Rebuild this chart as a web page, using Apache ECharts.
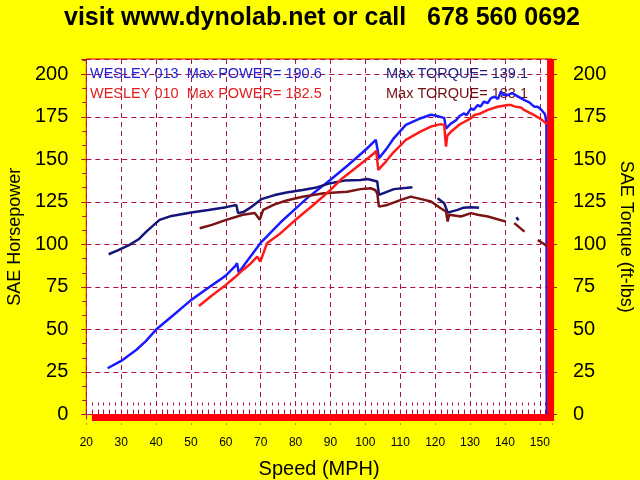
<!DOCTYPE html>
<html>
<head>
<meta charset="utf-8">
<script src="https://cdn.jsdelivr.net/npm/echarts@6/dist/echarts.min.js"></script>
<style>html,body{margin:0;padding:0;background:#ffff00;}#c{width:640px;height:480px;}</style>
</head>
<body>
<div id="c"></div>
<script>
// ---- data (speed MPH, value) ----
const hp013 = [[26.1,27.2],[30,31.5],[34.3,37.9],[37,43],[40.2,50.3],[45,58.5],[50.1,67.4],[55,74.5],[59.9,81.5],[62.8,87.5],[63.2,89],[63.7,83.4],[66,90],[69.9,100.7],[75.7,113],[80,121],[83.3,127.2],[90,138],[95,146.5],[100,155.5],[103,161.5],[103.5,162],[103.9,150.7],[106,156],[108,162],[111.6,170.3],[115.9,174.2],[118.8,176.2],[120,175.8],[122.6,174.4],[123.1,168.1],[124.5,171],[126,173],[127,175.5],[128.3,177],[129,176],[130.3,180],[131,179],[132.2,181.9],[133,181],[134,184],[135,183],[136,186],[137,186.8],[138,185.5],[138.9,190],[139.5,188],[140.8,187.8],[142,189],[143.7,187],[145.6,184.8],[147,183.5],[148.4,181],[149.4,180.9],[150.5,179],[151.5,176.5],[151.9,172],[152,0]];
const hp010 = [[52.3,63.8],[56,70],[60,76.2],[62.5,80.5],[64.9,85],[67,88.5],[69,92.8],[69.9,89.9],[71.8,100.7],[75.7,106.6],[80.5,115.4],[85,123],[90,132],[92.9,138],[96,143],[100,149.5],[102.5,153.6],[103.1,155],[103.7,143.8],[106,149],[108,154],[111.6,161.5],[115.9,166.4],[118.8,169.3],[121.6,170.7],[122.6,170.1],[123.1,157.5],[123.5,164],[124.5,166.2],[127,170.5],[130.3,174.2],[131.2,176],[133,177],[135.1,179.1],[137.9,180.9],[140.8,182],[141.8,181.9],[143,181],[144.6,180.5],[145.6,178.9],[147,177.5],[148.4,176],[150,174],[151.3,172.1],[152,170.7]];
const tq013 = [[26.4,94.2],[29,96.5],[32.4,99.7],[35,103],[37.2,107.5],[41,114.4],[44,116.5],[50.1,118.7],[55,120.2],[60.1,121.9],[63,123.2],[63.5,118.4],[65,119],[66.8,121.3],[70.2,126.6],[74,129],[77.4,130.5],[82,132],[86,133.5],[90,136],[94,137.5],[98.6,137.9],[100.6,138.5],[103.4,137],[103.9,129.1],[108.2,132.5],[113.5,133.6],[116,null],[120.7,127.2],[122.6,124.2],[123.6,118.7],[126.4,120.3],[128,121.5],[130.3,121.9],[132.6,121.5],[138,null],[143.3,116],[143.9,114.2]];
const tq010 = [[52.5,109.5],[56,111.5],[60.1,114.4],[64.9,117.4],[68.3,118.4],[69.2,116],[69.7,114.4],[70.7,120.3],[74,123.5],[77.4,125.8],[82,128],[88.1,130.1],[94.8,131],[98.6,132.5],[101.5,133],[102.8,132],[103.4,130.1],[103.9,122.2],[106.3,123.2],[110,126],[113,128.1],[116,126.6],[118.8,125.2],[121.6,121.3],[123.1,119.3],[123.6,113.4],[124,117.4],[127.4,116.4],[130.3,118.4],[132.2,117.4],[135.1,116.4],[140.3,113.4],[141.5,null],[142.7,112.5],[145.6,107.5],[147.5,null],[149.4,102.6],[151,100.5],[152.3,98.7]];
const endTrace = [[21.6,-1.8],[153.1,-1.8],[153.1,209]];
const titleText = 'visit www.dynolab.net or call   678 560 0692';
const legend013 = 'WESLEY 013  Max POWER= 190.6';
const legend010 = 'WESLEY 010  Max POWER= 182.5';
const torque013 = 'Max TORQUE= 139.1';
const torque010 = 'Max TORQUE= 133.1';

const FONT = 'Arial, "Liberation Sans", sans-serif';
const gridDash = {color:'#b0103c', type:[5,4], width:1};

const chart = echarts.init(document.getElementById('c'), null, {renderer:'canvas'});
chart.setOption({
  backgroundColor:'#ffff00',
  animation:false,
  grid:{left:86.3, right:88, top:59, bottom:65.5, containLabel:false, outerBoundsMode:'none', show:true, backgroundColor:'#ffffff', borderColor:'#dd0000', borderWidth:1, z:0},
  xAxis:[{
    type:'value', min:20, max:153.5, interval:10,
    name:'Speed (MPH)', nameLocation:'middle', nameGap:45,
    nameTextStyle:{fontSize:20, color:'#000', fontFamily:FONT},
    axisLine:{show:false},
    axisTick:{show:true, inside:true, length:12, lineStyle:gridDash},
    minorTick:{show:true, splitNumber:6, length:12, lineStyle:gridDash},
    axisLabel:{fontSize:12, color:'#000', fontFamily:FONT, margin:22,
      formatter:v=> (v%10===0 ? String(v) : '')},
    splitLine:{show:true, lineStyle:gridDash}
  },{
    type:'value', min:20, max:153.5, interval:10, position:'bottom', offset:8,
    axisLine:{show:false}, axisLabel:{show:false}, splitLine:{show:false},
    axisTick:{show:true, length:10, lineStyle:gridDash}
  }],
  yAxis:[{
    type:'value', min:0, max:209, interval:25, position:'left',
    name:'SAE Horsepower', nameLocation:'middle', nameGap:62, nameRotate:90,
    nameTextStyle:{fontSize:18, color:'#000', fontFamily:FONT},
    axisLine:{show:false},
    axisTick:{show:true, length:8, lineStyle:gridDash},
    minorTick:{show:true, splitNumber:3, length:4, lineStyle:{color:'#b0103c'}},
    axisLabel:{fontSize:20, color:'#000', fontFamily:FONT, margin:18,
      formatter:v=> (v%25===0 ? String(v) : '')},
    splitLine:{show:true, lineStyle:gridDash}
  },{
    type:'value', min:0, max:209, interval:25, position:'right',
    name:'SAE Torque (ft-lbs)', nameLocation:'middle', nameGap:64, nameRotate:-90,
    nameTextStyle:{fontSize:18, color:'#000', fontFamily:FONT},
    axisLine:{show:false},
    axisTick:{show:true, length:8, lineStyle:gridDash},
    axisLabel:{fontSize:20, color:'#000', fontFamily:FONT, margin:21,
      formatter:v=> (v%25===0 ? String(v) : '')},
    splitLine:{show:false}
  }],
  graphic:[
    {type:'text', x:322, y:18, z:1, style:{text:titleText, fontSize:25, fontWeight:'bold', fill:'#000', fontFamily:FONT, align:'center', verticalAlign:'middle'}},
    {type:'text', x:90, y:74.3, z:1, style:{text:legend013, fontSize:14.5, fill:'#2020d0', fontFamily:FONT, verticalAlign:'middle'}},
    {type:'text', x:386, y:74.3, z:1, style:{text:torque013, fontSize:14.5, fill:'#202080', fontFamily:FONT, verticalAlign:'middle'}},
    {type:'text', x:90, y:94.3, z:1, style:{text:legend010, fontSize:14.5, fill:'#e02020', fontFamily:FONT, verticalAlign:'middle'}},
    {type:'text', x:386, y:94.3, z:1, style:{text:torque010, fontSize:14.5, fill:'#701010', fontFamily:FONT, verticalAlign:'middle'}}
  ],
  series:[
    {type:'line', name:'HP 013', data:hp013, xAxisIndex:0, yAxisIndex:0, showSymbol:false, connectNulls:false, lineStyle:{color:'#1a1aff', width:2.5}, z:3},
    {type:'line', name:'TQ 013', data:tq013, xAxisIndex:0, yAxisIndex:1, showSymbol:false, connectNulls:false, lineStyle:{color:'#14147a', width:2.5}, z:3},
    {type:'line', name:'TQ 010', data:tq010, xAxisIndex:0, yAxisIndex:1, showSymbol:false, connectNulls:false, lineStyle:{color:'#7a1414', width:2.5}, z:4},
    {type:'line', name:'HP 010', data:hp010, xAxisIndex:0, yAxisIndex:0, showSymbol:false, connectNulls:false, lineStyle:{color:'#ff1a1a', width:2.5}, z:4},
    {type:'line', name:'end', data:endTrace, xAxisIndex:0, yAxisIndex:0, showSymbol:false, clip:false, lineStyle:{color:'#ff0000', width:7, cap:'butt', join:'miter'}, z:5, silent:true}
  ]
});
</script>
</body>
</html>
